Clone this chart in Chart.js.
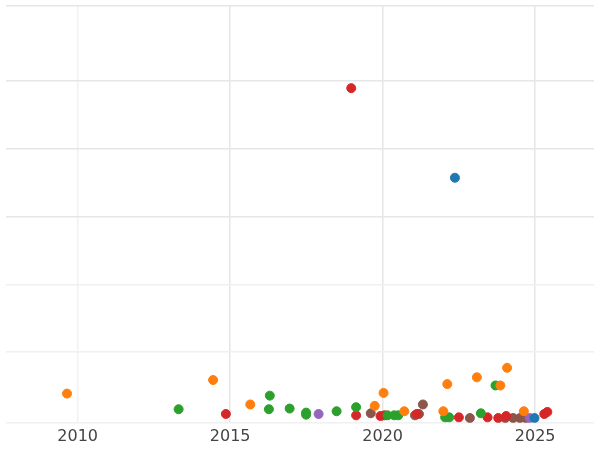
<!DOCTYPE html>
<html>
<head>
<meta charset="utf-8">
<script src="https://cdn.jsdelivr.net/npm/chart.js@4"></script>
<style>
  html, body { margin: 0; padding: 0; background: #fff; overflow: hidden; }
  #wrap { width: 600px; height: 450px; }
</style>
</head>
<body>
<div id="wrap"><canvas id="chart"></canvas></div>
<script>
// [year, value] pairs
const blueSeries = [[2022.37, 3.57], [2024.98, 0.03]];
const orangeSeries = [
  [2009.65, 0.39], [2014.44, 0.59], [2015.66, 0.23], [2019.74, 0.21], [2020.03, 0.40],
  [2020.71, 0.13], [2021.99, 0.13], [2022.12, 0.53], [2023.09, 0.63], [2023.86, 0.51],
  [2024.08, 0.77], [2024.63, 0.13],
];
const greenSeries = [
  [2013.31, 0.16], [2016.27, 0.16], [2016.30, 0.36], [2016.95, 0.17], [2017.49, 0.11],
  [2017.49, 0.08], [2018.49, 0.13], [2019.13, 0.19], [2020.16, 0.07], [2020.38, 0.07],
  [2020.51, 0.07], [2022.05, 0.04], [2022.18, 0.04], [2023.22, 0.10], [2023.70, 0.51],
];
const redSeries = [
  [2018.97, 4.89], [2014.86, 0.09], [2019.13, 0.07], [2019.93, 0.06], [2020.06, 0.07],
  [2021.12, 0.09], [2022.50, 0.04], [2023.44, 0.04], [2023.79, 0.03], [2024.05, 0.06],
  [2025.30, 0.09], [2025.40, 0.12],
];
const purpleSeries = [[2017.90, 0.09], [2024.82, 0.03]];
const brownSeries = [
  [2019.61, 0.10], [2021.06, 0.07], [2021.19, 0.09], [2021.32, 0.23], [2022.86, 0.03],
  [2024.02, 0.03], [2024.28, 0.03], [2024.50, 0.03], [2024.69, 0.03],
];
const xTicks = [2010, 2015, 2020, 2025];

function ds(points, color) {
  return {
    data: points.map(([x, y]) => ({ x, y })),
    backgroundColor: color,
    borderColor: color,
    pointRadius: 4.5,
    pointHoverRadius: 5,
  };
}

new Chart(document.getElementById("chart"), {
  type: "scatter",
  data: {
    datasets: [
      ds(blueSeries, "#1f77b4"),
      ds(orangeSeries, "#ff7f0e"),
      ds(greenSeries, "#2ca02c"),
      ds(redSeries, "#d62728"),
      ds(purpleSeries, "#9467bd"),
      ds(brownSeries, "#8c564b"),
    ],
  },
  options: {
    responsive: true,
    maintainAspectRatio: false,
    animation: false,
    layout: { padding: { left: -7, right: -7, top: -6, bottom: 0 } },
    plugins: { legend: { display: false }, tooltip: { enabled: false } },
    scales: {
      x: {
        type: "linear",
        min: 2007.65,
        max: 2026.93,
        afterBuildTicks: (axis) => { axis.ticks = xTicks.map((v) => ({ value: v })); },
        ticks: {
          color: "#444",
          font: { family: "DejaVu Sans", size: 16 },
          callback: (v) => String(v),
          padding: 4,
        },
        grid: {
          color: (c) => (c.tick && c.tick.value === 2010 ? "#f2f2f2" : "#e6e6e6"),
          lineWidth: 1.5,
          drawTicks: false,
        },
        border: { display: false },
      },
      y: {
        min: -0.04,
        max: 6.1,
        ticks: { display: false, stepSize: 1 },
        grid: {
          color: (c) => (c.tick && c.tick.value <= 2 ? "#f0f0f0" : "#e6e6e6"),
          lineWidth: 1.5,
          drawTicks: false,
        },
        border: { display: false },
      },
    },
  },
});
</script>
</body>
</html>
